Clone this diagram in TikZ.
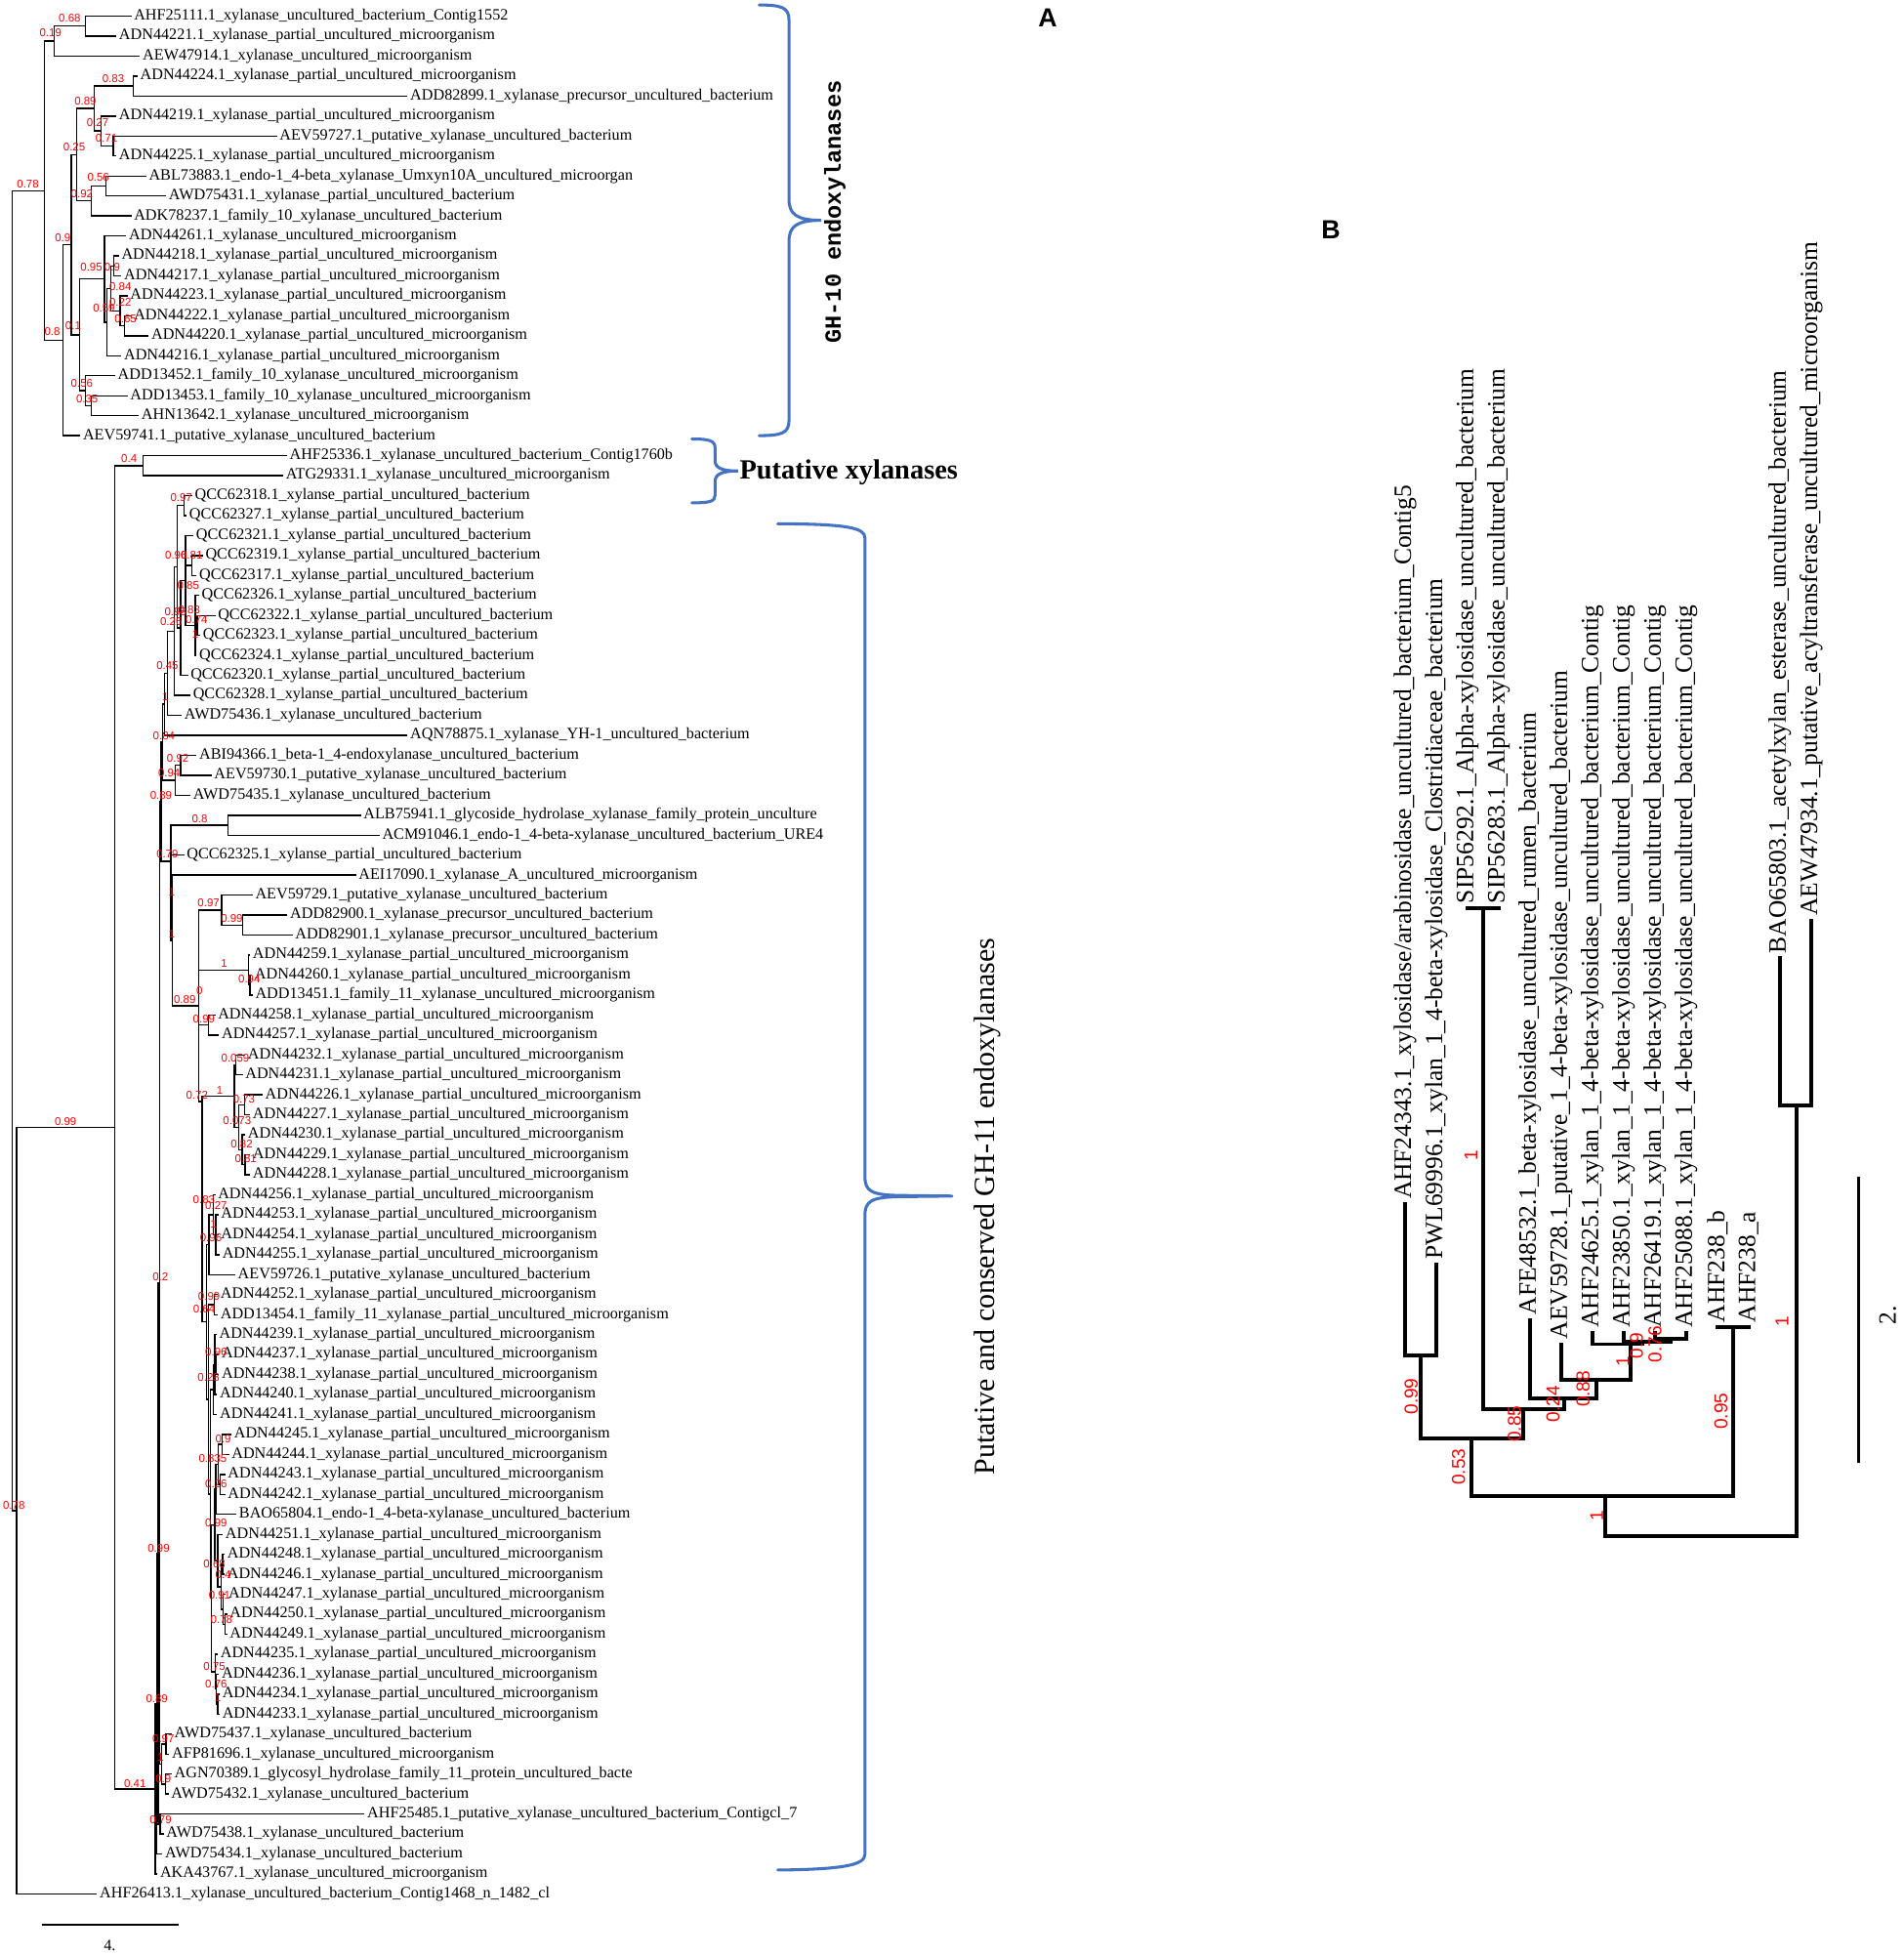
\documentclass[tikz,border=0pt]{standalone}
\usepackage{fontspec}
\setmainfont{Liberation Serif}
\newfontfamily\supfont{Liberation Sans}
\newfontfamily\typefont{Liberation Mono}
\usetikzlibrary{calc}
\definecolor{supred}{RGB}{255,0,0}
\definecolor{braceblue}{RGB}{68,114,196}
\tikzset{
  br/.style={line width=1.1pt, line cap=rect},
  brB/.style={line width=3pt, line cap=rect},
  lab/.style={anchor=west, inner xsep=2.5pt, inner ysep=0pt, font=\fontsize{12.7}{13}\selectfont},
  labB/.style={anchor=west, rotate=90, inner xsep=4pt, inner ysep=0pt, font=\fontsize{20}{21}\selectfont},
  sup/.style={text=supred, font=\supfont\fontsize{9}{9}\selectfont, inner sep=0pt},
  supB/.style={text=supred, font=\supfont\fontsize{15}{15}\selectfont, inner sep=0pt, rotate=90},
  bracestyle/.style={draw=braceblue, line width=2.4pt, line cap=round}
}
\newcommand\lf[4]{\coordinate (#1) at (#3,{13+(#2-1)*16.05}); \node[lab] (#1t) at (#1) {#4};}
\newcommand\tn[4]{\coordinate (#1mid) at ($(#3)!0.5!(#4)$); \coordinate (#1xx) at (#2,0); \coordinate (#1) at (#1xx |- #1mid); \draw[br] (#3) -- (#1 |- #3) -- (#1 |- #4) -- (#4);}
\newcommand\tny[5]{\coordinate (#1) at (#2,#3); \draw[br] (#4) -- (#1 |- #4) -- (#1 |- #5) -- (#5);}
\newcommand\mc[2]{\draw[br] (#1 |- #2) -- (#2);}
\newcommand\bn[5]{\coordinate (#1) at (#2,#3); \draw[brB] (#4) -- (#4 |- #1) -- (#5 |- #1) -- (#5);}
\newcommand\sv[3]{\node[sup] at (#1,#2) {#3};}
\newcommand\svb[3]{\node[supB] at (#1,#2) {#3};}
\begin{document}
\catcode`\_=12
\def\XPUM{_xylanase_partial_uncultured_microorganism}
\def\XPUB{_xylanse_partial_uncultured_bacterium}
\begin{tikzpicture}[x=1pt,y=-1pt]
\useasboundingbox (0,0) rectangle (1530,1571.6);
\fill[white] (0,0) rectangle (1530,1571.6);
% ---------------- Tree A leaves ----------------
\lf{a1}{1}{105}{AHF25111.1_xylanase_uncultured_bacterium_Contig1552}
\lf{a2}{2}{93}{ADN44221.1\XPUM}
\lf{a3}{3}{112}{AEW47914.1_xylanase_uncultured_microorganism}
\lf{a4}{4}{110}{ADN44224.1\XPUM}
\lf{a5}{5}{327}{ADD82899.1_xylanase_precursor_uncultured_bacterium}
\lf{a6}{6}{93}{ADN44219.1\XPUM}
\lf{a7}{7}{222}{AEV59727.1_putative_xylanase_uncultured_bacterium}
\lf{a8}{8}{93}{ADN44225.1\XPUM}
\lf{a9}{9}{117}{ABL73883.1_endo-1_4-beta_xylanase_Umxyn10A_uncultured_microorgan}
\lf{a10}{10}{133}{AWD75431.1_xylanase_partial_uncultured_bacterium}
\lf{a11}{11}{105}{ADK78237.1_family_10_xylanase_uncultured_bacterium}
\lf{a12}{12}{101}{ADN44261.1_xylanase_uncultured_microorganism}
\lf{a13}{13}{95}{ADN44218.1\XPUM}
\lf{a14}{14}{97}{ADN44217.1\XPUM}
\lf{a15}{15}{102}{ADN44223.1\XPUM}
\lf{a16}{16}{105}{ADN44222.1\XPUM}
\lf{a17}{17}{119}{ADN44220.1\XPUM}
\lf{a18}{18}{97}{ADN44216.1\XPUM}
\lf{a19}{19}{92}{ADD13452.1_family_10_xylanase_uncultured_microorganism}
\lf{a20}{20}{102}{ADD13453.1_family_10_xylanase_uncultured_microorganism}
\lf{a21}{21}{111}{AHN13642.1_xylanase_uncultured_microorganism}
\lf{a22}{22}{64}{AEV59741.1_putative_xylanase_uncultured_bacterium}
\lf{a23}{23}{230}{AHF25336.1_xylanase_uncultured_bacterium_Contig1760b}
\lf{a24}{24}{227}{ATG29331.1_xylanase_uncultured_microorganism}
\lf{a25}{25}{154}{QCC62318.1\XPUB}
\lf{a26}{26}{149.5}{QCC62327.1\XPUB}
\lf{a27}{27}{155}{QCC62321.1\XPUB}
\lf{a28}{28}{162.5}{QCC62319.1\XPUB}
\lf{a29}{29}{157.5}{QCC62317.1\XPUB}
\lf{a30}{30}{159.5}{QCC62326.1\XPUB}
\lf{a31}{31}{172.5}{QCC62322.1\XPUB}
\lf{a32}{32}{160.5}{QCC62323.1\XPUB}
\lf{a33}{33}{157.5}{QCC62324.1\XPUB}
\lf{a34}{34}{150.5}{QCC62320.1\XPUB}
\lf{a35}{35}{152.5}{QCC62328.1\XPUB}
\lf{a36}{36}{145.5}{AWD75436.1_xylanase_uncultured_bacterium}
\lf{a37}{37}{327}{AQN78875.1_xylanase_YH-1_uncultured_bacterium}
\lf{a38}{38}{157.5}{ABI94366.1_beta-1_4-endoxylanase_uncultured_bacterium}
\lf{a39}{39}{169.5}{AEV59730.1_putative_xylanase_uncultured_bacterium}
\lf{a40}{40}{152.5}{AWD75435.1_xylanase_uncultured_bacterium}
\lf{a41}{41}{289.5}{ALB75941.1_glycoside_hydrolase_xylanase_family_protein_unculture}
\lf{a42}{42}{304.5}{ACM91046.1_endo-1_4-beta-xylanase_uncultured_bacterium_URE4}
\lf{a43}{43}{147.5}{QCC62325.1\XPUB}
\lf{a44}{44}{285.5}{AEI17090.1_xylanase_A_uncultured_microorganism}
\lf{a45}{45}{202.5}{AEV59729.1_putative_xylanase_uncultured_bacterium}
\lf{a46}{46}{230.5}{ADD82900.1_xylanase_precursor_uncultured_bacterium}
\lf{a47}{47}{234.5}{ADD82901.1_xylanase_precursor_uncultured_bacterium}
\lf{a48}{48}{200.5}{ADN44259.1\XPUM}
\lf{a49}{49}{202}{ADN44260.1\XPUM}
\lf{a50}{50}{202.5}{ADD13451.1_family_11_xylanase_uncultured_microorganism}
\lf{a51}{51}{172.5}{ADN44258.1\XPUM}
\lf{a52}{52}{175.5}{ADN44257.1\XPUM}
\lf{a53}{53}{196.5}{ADN44232.1\XPUM}
\lf{a54}{54}{194.5}{ADN44231.1\XPUM}
\lf{a55}{55}{210.5}{ADN44226.1\XPUM}
\lf{a56}{56}{200.5}{ADN44227.1\XPUM}
\lf{a57}{57}{196.5}{ADN44230.1\XPUM}
\lf{a58}{58}{200.5}{ADN44229.1\XPUM}
\lf{a59}{59}{200.5}{ADN44228.1\XPUM}
\lf{a60}{60}{172.5}{ADN44256.1\XPUM}
\lf{a61}{61}{175}{ADN44253.1\XPUM}
\lf{a62}{62}{175}{ADN44254.1\XPUM}
\lf{a63}{63}{176}{ADN44255.1\XPUM}
\lf{a64}{64}{188.5}{AEV59726.1_putative_xylanase_uncultured_bacterium}
\lf{a65}{65}{174.5}{ADN44252.1\XPUM}
\lf{a66}{66}{174.5}{ADD13454.1_family_11_xylanase_partial_uncultured_microorganism}
\lf{a67}{67}{173.5}{ADN44239.1\XPUM}
\lf{a68}{68}{175.5}{ADN44237.1\XPUM}
\lf{a69}{69}{175.5}{ADN44238.1\XPUM}
\lf{a70}{70}{174}{ADN44240.1\XPUM}
\lf{a71}{71}{174}{ADN44241.1\XPUM}
\lf{a72}{72}{185.5}{ADN44245.1\XPUM}
\lf{a73}{73}{183.5}{ADN44244.1\XPUM}
\lf{a74}{74}{180.5}{ADN44243.1\XPUM}
\lf{a75}{75}{180.5}{ADN44242.1\XPUM}
\lf{a76}{76}{189.5}{BAO65804.1_endo-1_4-beta-xylanase_uncultured_bacterium}
\lf{a77}{77}{178.5}{ADN44251.1\XPUM}
\lf{a78}{78}{180}{ADN44248.1\XPUM}
\lf{a79}{79}{180}{ADN44246.1\XPUM}
\lf{a80}{80}{181}{ADN44247.1\XPUM}
\lf{a81}{81}{182}{ADN44250.1\XPUM}
\lf{a82}{82}{182}{ADN44249.1\XPUM}
\lf{a83}{83}{174.5}{ADN44235.1\XPUM}
\lf{a84}{84}{175.5}{ADN44236.1\XPUM}
\lf{a85}{85}{176}{ADN44234.1\XPUM}
\lf{a86}{86}{176}{ADN44233.1\XPUM}
\lf{a87}{87}{137.5}{AWD75437.1_xylanase_uncultured_bacterium}
\lf{a88}{88}{135.5}{AFP81696.1_xylanase_uncultured_microorganism}
\lf{a89}{89}{137.5}{AGN70389.1_glycosyl_hydrolase_family_11_protein_uncultured_bacte}
\lf{a90}{90}{135}{AWD75432.1_xylanase_uncultured_bacterium}
\lf{a91}{91}{292.5}{AHF25485.1_putative_xylanase_uncultured_bacterium_Contigcl_7}
\lf{a92}{92}{131}{AWD75438.1_xylanase_uncultured_bacterium}
\lf{a93}{93}{130}{AWD75434.1_xylanase_uncultured_bacterium}
\lf{a94}{94}{126}{AKA43767.1_xylanase_uncultured_microorganism}
\lf{a95}{95}{77.5}{AHF26413.1_xylanase_uncultured_bacterium_Contig1468_n_1482_cl}
% ---------------- Tree A internal nodes ----------------
\tn{nE}{68.6}{a1}{a2}
\tn{nD}{43.4}{nE}{a3}
\tn{nJ}{107}{a4}{a5}
\tn{nL}{91}{a7}{a8}
\tn{nK}{81}{a6}{nL}
\tn{nH}{75.6}{nJ}{nK}
\tn{nM}{85}{a9}{a10}
\tn{nI}{73.4}{nM}{a11}
\tn{nF}{61.6}{nH}{nI}
\tn{nTa}{91.5}{a13}{a14}
\tn{nTb}{100}{a16}{a17}
\tn{nTc}{96.5}{a15}{nTb}
\tn{nTd}{89}{nTa}{nTc}
\tn{nR}{86}{nTd}{a18}
\tn{nP}{84}{a12}{nR}
\tn{nQ}{73.4}{a20}{a21}
\tn{nN}{68.6}{a19}{nQ}
\tn{nG}{63.9}{nP}{nN}
\tn{nC}{57.4}{nF}{nG}
\tn{nB}{50.4}{nC}{a22}
\tn{nA}{35.9}{nD}{nB}
\tn{nPX}{115}{a23}{a24}
\tn{nQA}{147.8}{a25}{a26}
\tn{nQB}{154.3}{a28}{a29}
\tn{nQCa}{158.5}{a31}{a32}
\tn{nQC}{156.9}{a30}{a33} \mc{nQC}{nQCa}
\tn{nQD}{149.1}{a27}{nQC} \mc{nQD}{nQB}
\tn{nQE}{145.2}{nQD}{a34}
\tn{nQF}{142.5}{nQA}{nQE}
\tn{nQG}{139.9}{nQF}{a35}
\tn{nQH}{134.7}{nQG}{a36}
\tn{nBKa}{132}{nQH}{a37}
\tn{nBA}{145}{a38}{a39}
\tn{nBB}{140.8}{nBA}{a40}
\tn{nBKb}{130.8}{nBKa}{nBB}
\tn{nBC}{183}{a41}{a42}
\tn{nCA}{195}{a46}{a47}
\tn{nCB}{178}{a45}{nCA}
\tn{nCC}{201}{a49}{a50}
\tn{nCD}{199.5}{a48}{nCC}
\tn{nCE}{167.5}{a51}{a52}
\tn{nDA}{189.5}{a53}{a54}
\tn{nDD}{196.5}{a55}{a56}
\tn{nDB}{197}{a58}{a59}
\tn{nDC}{194.5}{a57}{nDB}
\tn{nDE}{192}{nDD}{nDC}
\tn{nDF}{188.3}{nDA}{nDE}
\tn{nEA}{173.5}{a61}{a63} \mc{nEA}{a62}
\tn{nEB}{171.5}{a60}{nEA}
\tn{nEC}{168}{nEB}{a64}
\tn{nED}{172}{a65}{a66}
\tn{nFA}{174}{a68}{a69}
\tn{nFB}{172.5}{a67}{a70} \mc{nFB}{nFA}
\tn{nFC}{171.5}{nFB}{a71}
\tn{nGA}{178.5}{a72}{a73}
\tn{nGB}{177}{a74}{a75}
\tn{nGC}{175.5}{nGA}{nGB}
\tn{nGD}{173.5}{nGC}{a76}
\tn{nHC}{179}{a78}{a79}
\tn{nHA}{181}{a81}{a82}
\tn{nHB}{179.5}{a80}{nHA}
\tn{nHD}{177.5}{nHC}{nHB}
\tn{nHE}{175}{a77}{nHD}
\tn{nGH}{172.5}{nGD}{nHE}
\tn{nIA}{175}{a85}{a86}
\tn{nIB}{174}{a84}{nIA}
\tn{nIC}{173}{a83}{nIB}
\tn{nXA}{170}{nGH}{nIC}
\tn{nXB}{169}{nFC}{nXA}
\tn{nXC}{167.5}{nED}{nXB}
\tn{nXD}{166}{nEC}{nXC}
\tny{nXE}{162.5}{885}{nDF}{nXD}
\tn{nXF}{159.5}{nCB}{nXE} \mc{nXF}{nCD} \mc{nXF}{nCE}
\tn{nXG}{138.5}{a44}{nXF}
\tny{nXH}{137.3}{692}{nBC}{nXG} \mc{nXH}{a43}
\tn{nBKc}{129.6}{nBKb}{nXH}
\tn{nLA}{133.5}{a87}{a88}
\tn{nLB}{133}{a89}{a90}
\tn{nLC}{129.8}{nLA}{nLB}
\tn{nNBa}{128.4}{nBKc}{nLC}
\tn{nZd}{128.6}{a91}{a92}
\tn{nNBb}{127.2}{nNBa}{nZd}
\tn{nNBc}{126}{nNBb}{a93}
\tn{nZ}{124.8}{nNBc}{a94}
\tn{nY}{92}{nPX}{nZ}
\tn{nX}{13.4}{nY}{a95}
\tn{nRt}{9.8}{nA}{nX}
% ---------------- Tree A support values ----------------
\sv{56}{14.9}{0.68} \sv{40.6}{26.7}{0.19} \sv{91}{63.3}{0.83} \sv{68.6}{81.6}{0.89}
\sv{78.5}{98.9}{0.27} \sv{85.5}{111.2}{0.71} \sv{59.7}{118.5}{0.25} \sv{79}{142.5}{0.56}
\sv{22.4}{147.8}{0.78} \sv{65.8}{156.1}{0.92} \sv{50.4}{191}{0.9} \sv{73.4}{215}{0.95}
\sv{90.2}{215}{0.9} \sv{96.7}{230}{0.84} \sv{96.7}{243.2}{0.22} \sv{83.5}{247.2}{0.59}
\sv{100.9}{256.3}{0.65} \sv{58.8}{261.5}{0.1} \sv{42}{266.8}{0.8} \sv{65.8}{308}{0.56}
\sv{70}{320.4}{0.35}
\sv{103.7}{368.2}{0.4} \sv{145.7}{400.1}{0.97} \sv{141.5}{445.9}{0.96} \sv{154}{446}{0.81}
\sv{151.3}{470.2}{0.85} \sv{141}{491.7}{0.98} \sv{152}{490}{0.83} \sv{158}{498}{0.74}
\sv{137.5}{499.5}{0.26} \sv{157}{509.5}{1} \sv{134.5}{534.8}{0.45} \sv{133.1}{559.7}{1}
\sv{131.7}{591}{0.84} \sv{142.9}{609.4}{0.92} \sv{135.9}{621.1}{0.94} \sv{129.4}{639.4}{0.89}
\sv{160.5}{657.7}{0.8} \sv{134.5}{686.5}{0.79} \sv{137.9}{716.7}{1} \sv{167.6}{725.8}{0.97}
\sv{186.3}{738.1}{0.99} \sv{137.9}{750.7}{1} \sv{180.2}{774.2}{1} \sv{200.3}{786.7}{0.94}
\sv{160.3}{796.4}{0} \sv{148.5}{803}{0.89} \sv{163.9}{818.7}{0.99} \sv{189.1}{850}{0.059}
\sv{158.3}{880.1}{0.72} \sv{176.5}{876.2}{1} \sv{196.1}{883.5}{0.73} \sv{190.5}{900.5}{0.073}
\sv{194.2}{919.3}{0.82} \sv{197.5}{931.1}{0.81} \sv{52.7}{901}{0.99}
\sv{163.9}{963.8}{0.83} \sv{173.7}{969}{0.27} \sv{171.5}{983.4}{1} \sv{169.5}{994.7}{0.96}
\sv{128.9}{1026}{0.2} \sv{168}{1041.7}{0.99} \sv{164}{1052}{0.64} \sv{173.7}{1086.7}{0.96}
\sv{167.6}{1106.8}{0.28} \sv{179.3}{1156}{0.9} \sv{171}{1171.7}{0.835} \sv{173.7}{1192.6}{0.26}
\sv{173.7}{1223.5}{0.99} \sv{127.5}{1244.2}{0.99} \sv{172.3}{1256.7}{0.68} \sv{179.3}{1265.3}{0.4}
\sv{176.5}{1282}{0.91} \sv{178}{1301.2}{0.78} \sv{172.3}{1339.1}{0.75} \sv{173.7}{1353}{0.76}
\sv{175.1}{1364}{1} \sv{126.1}{1365.2}{0.89} \sv{11.2}{1209.6}{0.78}
\sv{131.3}{1396.7}{0.97} \sv{129}{1412}{1} \sv{131.3}{1429.4}{0.9} \sv{108.5}{1433.3}{0.41}
\sv{129.1}{1462}{0.79}
% ---------------- Tree A scale bar ----------------
\coordinate (sbA1) at (33.6,1546.3);
\coordinate (sbA2) at (143.3,1546.3);
\draw[line width=1.5pt] (sbA1) -- (sbA2);
\node[font=\fontsize{12.7}{13}\selectfont, inner sep=0pt] (sbAt) at (88.2,1563.5) {4.};
% ---------------- Braces and group titles ----------------
\draw[bracestyle] (610,4) .. controls (628,4) and (634,6) .. (634,16) -- (634,160)
  .. controls (634,172) and (640,177) .. (660,177)
  .. controls (640,177) and (634,182) .. (634,194) -- (634,338)
  .. controls (634,348) and (628,350) .. (610,350);
\node[rotate=90, inner sep=0pt, font=\typefont\bfseries\fontsize{18.5}{19}\selectfont] (tGHten) at (670.9,170.3) {GH-10 endoxylanases};
\draw[bracestyle] (556,352.7) .. controls (570,352.7) and (574.6,354) .. (574.6,360) -- (574.6,370)
  .. controls (574.6,376) and (580,378.4) .. (593,378.4)
  .. controls (580,378.4) and (574.6,381) .. (574.6,387) -- (574.6,398)
  .. controls (574.6,403) and (570,404) .. (556,404);
\node[anchor=west, inner sep=0pt, font=\bfseries\fontsize{22.3}{23}\selectfont] (tPut) at (594.2,379.7) {Putative xylanases};
\draw[bracestyle] (625,420.8) .. controls (680,421) and (695,424) .. (695,432) -- (695,945)
  .. controls (695,957) and (700,960) .. (722,960.5) -- (765,961)
  (765,961) -- (722,961.5) .. controls (700,962) and (695,965) .. (695,977) -- (695,1490)
  .. controls (695,1498) and (680,1502) .. (625,1502.5);
\node[rotate=90, inner sep=0pt, font=\fontsize{23.5}{24}\selectfont] (tGHel) at (793.8,969.5) {Putative and conserved GH-11 endoxylanases};
\node[inner sep=0pt, font=\supfont\bfseries\fontsize{21}{21}\selectfont] (pA) at (842,14.2) {A};
\node[inner sep=0pt, font=\supfont\bfseries\fontsize{21}{21}\selectfont] (pB) at (1069.5,185) {B};
% ---------------- Tree B ----------------
\coordinate (b1) at (1129,967.7);
\coordinate (b2) at (1154.1,1016.1);
\coordinate (b3) at (1179.2,730);
\coordinate (b4) at (1204.3,730);
\coordinate (b5) at (1229.4,1060.5);
\coordinate (b6) at (1254.5,1080.2);
\coordinate (b7) at (1279.6,1071);
\coordinate (b8) at (1304.7,1071);
\coordinate (b9) at (1329.8,1071);
\coordinate (b10) at (1354.9,1071);
\coordinate (b11) at (1380,1066.6);
\coordinate (b12) at (1405.1,1066.6);
\coordinate (b13) at (1430.2,770);
\coordinate (b14) at (1455.3,740);
\node[labB] (b1t) at (b1) {AHF24343.1_xylosidase/arabinosidase_uncultured_bacterium_Contig5};
\node[labB] (b2t) at (b2) {PWL69996.1_xylan_1_4-beta-xylosidase_Clostridiaceae_bacterium};
\node[labB] (b3t) at (b3) {SIP56292.1_Alpha-xylosidase_uncultured_bacterium};
\node[labB] (b4t) at (b4) {SIP56283.1_Alpha-xylosidase_uncultured_bacterium};
\node[labB] (b5t) at (b5) {AFE48532.1_beta-xylosidase_uncultured_rumen_bacterium};
\node[labB] (b6t) at (b6) {AEV59728.1_putative_1_4-beta-xylosidase_uncultured_bacterium};
\node[labB] (b7t) at (b7) {AHF24625.1_xylan_1_4-beta-xylosidase_uncultured_bacterium_Contig};
\node[labB] (b8t) at (b8) {AHF23850.1_xylan_1_4-beta-xylosidase_uncultured_bacterium_Contig};
\node[labB] (b9t) at (b9) {AHF26419.1_xylan_1_4-beta-xylosidase_uncultured_bacterium_Contig};
\node[labB] (b10t) at (b10) {AHF25088.1_xylan_1_4-beta-xylosidase_uncultured_bacterium_Contig};
\node[labB] (b11t) at (b11) {AHF238_b};
\node[labB] (b12t) at (b12) {AHF238_a};
\node[labB] (b13t) at (b13) {BAO65803.1_acetylxylan_esterase_uncultured_bacterium};
\node[labB] (b14t) at (b14) {AEW47934.1_putative_acyltransferase_uncultured_microorganism};
\bn{mA}{1141.6}{1089.3}{b1}{b2}
\bn{mSIP}{1191.8}{730}{b3}{b4}
\bn{mF}{1342.4}{1076}{b9}{b10}
\bn{mE}{1320}{1078}{b8}{mF}
\bn{mD}{1310.5}{1080}{b7}{mE}
\bn{mC}{1282.9}{1108.9}{b6}{mD}
\bn{mBb}{1256.8}{1123.3}{b5}{mC}
\bn{mBa}{1223.7}{1132.5}{mSIP}{mBb}
\bn{mG}{1182.4}{1155.5}{mA}{mBa}
\bn{mH}{1392.5}{1066.6}{b11}{b12}
\bn{mL}{1289.8}{1201.8}{mG}{mH}
\bn{mR}{1444}{888}{b13}{b14}
\bn{mRoot}{1367}{1234.5}{mL}{mR}
\svb{1134}{1122}{0.99} \svb{1172}{1178.6}{0.53} \svb{1217}{1144}{0.85} \svb{1182}{928}{1}
\svb{1248}{1128}{0.24} \svb{1272}{1116}{0.88} \svb{1304}{1094}{1} \svb{1315}{1081}{0.9}
\svb{1330}{1080}{0.76} \svb{1383}{1134}{0.95} \svb{1432}{1062}{1} \svb{1283}{1218}{1}
\coordinate (sbB1) at (1493.5,945.5);
\coordinate (sbB2) at (1493.5,1175.5);
\draw[line width=3pt] (sbB1) -- (sbB2);
\node[rotate=90, inner sep=0pt, font=\fontsize{20}{20}\selectfont] (sbBt) at (1517,1057) {2.};
\end{tikzpicture}
\end{document}
